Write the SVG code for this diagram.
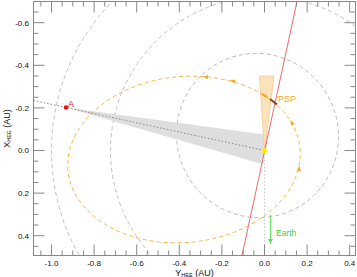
<svg xmlns="http://www.w3.org/2000/svg" width="357" height="277" viewBox="0 0 357 277">
<style>
text{font-family:"Liberation Sans",Arial,sans-serif;}
.tl{font-size:8px;fill:#111;}
.orb{fill:none;stroke:#b0b0b0;stroke-width:0.8;stroke-dasharray:4,3;}
.psp{fill:none;stroke:#f7ae3c;stroke-width:0.9;stroke-dasharray:4,3;}
.tick{stroke:#888;stroke-width:1;fill:none;}
.oarr{fill:#f5a623;}
</style>
<defs>
<clipPath id="frame"><rect x="33.5" y="1.5" width="322" height="254"/></clipPath>
<marker id="garr" markerWidth="6" markerHeight="6" refX="5" refY="3" orient="auto" markerUnits="userSpaceOnUse"><path d="M0,0.5 L5,3 L0,5.5 Z" fill="#66dd66"/></marker>
</defs>
<rect x="0" y="0" width="357" height="277" fill="#fff"/>
<g id="plot" clip-path="url(#frame)">
<g id="planet-orbits">
<circle class="orb" cx="264.5" cy="150.5" r="213"/>
<circle class="orb" cx="264.5" cy="150.5" r="154"/>
<ellipse class="orb" cx="0" cy="0" rx="82.4" ry="80.7" transform="translate(257.5,135.5) rotate(65)"/>
</g>
<g id="fov-A">
<polygon points="66,107.5 268,135 262,164" fill="#dedede"/>
</g>
<g id="fov-PSP">
<polygon points="259.5,76 274,76 264.5,150.5" fill="#fde3bb" stroke="#f9c98a" stroke-width="0.8"/>
</g>
<g id="psp-orbit">
<ellipse class="psp" cx="0" cy="0" rx="116.5" ry="83" transform="translate(184,159.5) rotate(-5.5)"/>
<polygon class="oarr" points="3,0 -2,-2 -2,2" transform="translate(206,77) rotate(186)"/>
<polygon class="oarr" points="3,0 -2,-2 -2,2" transform="translate(233,81) rotate(197)"/>
<polygon class="oarr" points="3,0 -2,-2 -2,2" transform="translate(292,123) rotate(243)"/>
<polygon class="oarr" points="3,0 -2,-2 -2,2" transform="translate(299,169) rotate(279)"/>
</g>
<g id="connectors">
<line x1="33.5" y1="100.4" x2="264.5" y2="150.5" stroke="#888" stroke-width="1" stroke-dasharray="1.5,2"/>
<line x1="264.5" y1="153" x2="264.5" y2="246" stroke="#c8c8c8" stroke-width="1" stroke-dasharray="1.5,2"/>
<line id="plane-of-sky" x1="297" y1="1.5" x2="242" y2="255.5" stroke="#ec6b6b" stroke-width="1"/>
<line x1="270.5" y1="215" x2="270.5" y2="244" stroke="#66dd66" stroke-width="1" marker-end="url(#garr)"/>
</g>
<g id="PSP">
<line x1="262" y1="94" x2="267" y2="97" stroke="#f5a623" stroke-width="2.2"/>
<line x1="270" y1="99" x2="277" y2="104.5" stroke="#8b4513" stroke-width="2.2"/>
<text x="278" y="102" font-size="9" fill="#f5a623">PSP</text>
</g>
<g id="Sun">
<circle cx="264.5" cy="150.5" r="2.5" fill="#ffee00"/>
</g>
<g id="A">
<circle cx="66" cy="107.5" r="2.2" fill="#ee1111"/>
<text x="68" y="107" font-size="9" fill="#ee1111">A</text>
</g>
<g id="Earth">
<text x="276" y="236" font-size="8.5" fill="#44cc44">Earth</text>
</g>
</g>
<g id="axes">
<rect x="33.5" y="1.5" width="322" height="254" fill="none" stroke="#888" stroke-width="1"/>
<path class="tick" d="M40.85,255.5v-5M51.5,255.5v-11M62.15,255.5v-5M72.8,255.5v-5M83.45,255.5v-5M94.1,255.5v-11M104.75,255.5v-5M115.4,255.5v-5M126.05,255.5v-5M136.7,255.5v-11M147.35,255.5v-5M158,255.5v-5M168.65,255.5v-5M179.3,255.5v-11M189.95,255.5v-5M200.6,255.5v-5M211.25,255.5v-5M221.9,255.5v-11M232.55,255.5v-5M243.2,255.5v-5M253.85,255.5v-5M264.5,255.5v-11M275.15,255.5v-5M285.8,255.5v-5M296.45,255.5v-5M307.1,255.5v-11M317.75,255.5v-5M328.4,255.5v-5M339.05,255.5v-5M349.7,255.5v-11"/>
<path class="tick" d="M40.85,1.5v5M51.5,1.5v11M62.15,1.5v5M72.8,1.5v5M83.45,1.5v5M94.1,1.5v11M104.75,1.5v5M115.4,1.5v5M126.05,1.5v5M136.7,1.5v11M147.35,1.5v5M158,1.5v5M168.65,1.5v5M179.3,1.5v11M189.95,1.5v5M200.6,1.5v5M211.25,1.5v5M221.9,1.5v11M232.55,1.5v5M243.2,1.5v5M253.85,1.5v5M264.5,1.5v11M275.15,1.5v5M285.8,1.5v5M296.45,1.5v5M307.1,1.5v11M317.75,1.5v5M328.4,1.5v5M339.05,1.5v5M349.7,1.5v11"/>
<path class="tick" d="M33.5,12.05h5M33.5,22.7h11M33.5,33.35h5M33.5,44h5M33.5,54.65h5M33.5,65.3h11M33.5,75.95h5M33.5,86.6h5M33.5,97.25h5M33.5,107.9h11M33.5,118.55h5M33.5,129.2h5M33.5,139.85h5M33.5,150.5h11M33.5,161.15h5M33.5,171.8h5M33.5,182.45h5M33.5,193.1h11M33.5,203.75h5M33.5,214.4h5M33.5,225.05h5M33.5,235.7h11M33.5,246.35h5"/>
<path class="tick" d="M355.5,12.05h-5M355.5,22.7h-11M355.5,33.35h-5M355.5,44h-5M355.5,54.65h-5M355.5,65.3h-11M355.5,75.95h-5M355.5,86.6h-5M355.5,97.25h-5M355.5,107.9h-11M355.5,118.55h-5M355.5,129.2h-5M355.5,139.85h-5M355.5,150.5h-11M355.5,161.15h-5M355.5,171.8h-5M355.5,182.45h-5M355.5,193.1h-11M355.5,203.75h-5M355.5,214.4h-5M355.5,225.05h-5M355.5,235.7h-11M355.5,246.35h-5"/>
<g class="tl" text-anchor="end">
<text x="29" y="25.6">-0.6</text>
<text x="29" y="68.2">-0.4</text>
<text x="29" y="110.8">-0.2</text>
<text x="29" y="153.4">0.0</text>
<text x="29" y="196">0.2</text>
<text x="29" y="238.6">0.4</text>
</g>
<g class="tl" text-anchor="middle">
<text x="51.5" y="266">-1.0</text>
<text x="94.1" y="266">-0.8</text>
<text x="136.7" y="266">-0.6</text>
<text x="179.3" y="266">-0.4</text>
<text x="221.9" y="266">-0.2</text>
<text x="264.5" y="266">0.0</text>
<text x="307.1" y="266">0.2</text>
<text x="349.7" y="266">0.4</text>
</g>
<text x="194.5" y="275.5" font-size="9" fill="#111" text-anchor="middle">Y<tspan font-size="5.5" dy="1.5">HEE</tspan><tspan dy="-1.5"> (AU)</tspan></text>
<text transform="translate(9.5,128.5) rotate(-90)" font-size="9" fill="#111" text-anchor="middle">X<tspan font-size="5.5" dy="1.5">HEE</tspan><tspan dy="-1.5"> (AU)</tspan></text>
</g>
</svg>
